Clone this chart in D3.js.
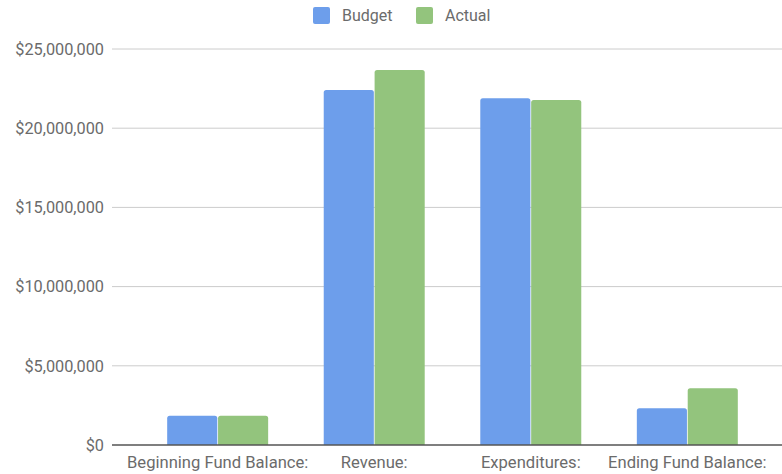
<!DOCTYPE html>
<html>
<head>
  <meta charset="utf-8">
  <script src="https://d3js.org/d3.v7.min.js"></script>
  <style>
    body { margin: 0; background: #fff; }
    text { font-family: Roboto, "Noto Sans", sans-serif; fill: #6b6b6b; }
  </style>
</head>
<body>
  <svg id="chart" width="782" height="474"></svg>
  <script>
    // data
    const categories = ["Beginning Fund Balance:", "Revenue:", "Expenditures:", "Ending Fund Balance:"];
    const series = ["Budget", "Actual"];
    const budget = [1850000, 22410000, 21890000, 2320000];
    const actual = [1850000, 23670000, 21780000, 3580000];
    const yTicks = [0, 5000000, 10000000, 15000000, 20000000, 25000000];
    const colors = ["#6d9eeb", "#93c47d"];

    const svg = d3.select("#chart");
    const gridLeft = 112, gridRight = 782;

    const x = d3.scaleBand().domain(categories).range([139, 766]).paddingInner(0.355).paddingOuter(0.18);
    const x1 = d3.scaleBand().domain(series).range([0, x.bandwidth()]).paddingInner(0.015);
    const y = d3.scaleLinear().domain([0, 25000000]).range([445, 49]);

    // gridlines + y labels
    const fmt = d => "$" + d3.format(",")(d);
    svg.append("g").selectAll("line")
      .data(yTicks.filter(d => d > 0))
      .join("line")
      .attr("x1", gridLeft).attr("x2", gridRight)
      .attr("y1", d => y(d)).attr("y2", d => y(d))
      .attr("stroke", "#ccc").attr("stroke-width", 1);

    svg.append("g").selectAll("text")
      .data(yTicks)
      .join("text")
      .attr("x", 104).attr("y", d => y(d))
      .attr("dy", "0.35em")
      .attr("text-anchor", "end")
      .attr("font-size", 16.3)
      .text(fmt);

    // bars with rounded top corners
    function barPath(x0, w, yTop, yBase, r) {
      r = Math.min(r, (yBase - yTop));
      return `M${x0},${yBase} V${yTop + r} Q${x0},${yTop} ${x0 + r},${yTop} H${x0 + w - r} Q${x0 + w},${yTop} ${x0 + w},${yTop + r} V${yBase} Z`;
    }

    const rows = categories.map((c, i) => ({ cat: c, values: [budget[i], actual[i]] }));
    const groups = svg.append("g").selectAll("g")
      .data(rows)
      .join("g")
      .attr("transform", d => `translate(${x(d.cat)},0)`);

    groups.selectAll("path")
      .data(d => d.values.map((v, j) => ({ s: series[j], v, j })))
      .join("path")
      .attr("d", d => barPath(x1(d.s), x1.bandwidth(), y(d.v), y(0), 2.5))
      .attr("fill", d => colors[d.j]);

    // baseline
    svg.append("line")
      .attr("x1", gridLeft).attr("x2", gridRight)
      .attr("y1", y(0)).attr("y2", y(0))
      .attr("stroke", "#555").attr("stroke-width", 1.5);

    // category labels
    svg.append("g").selectAll("text")
      .data(categories)
      .join("text")
      .attr("x", d => x(d) + x.bandwidth() / 2)
      .attr("y", 468)
      .attr("text-anchor", "middle")
      .attr("font-size", 16.6)
      .text(d => d);

    // legend
    const legendX = [313, 416];
    const legend = svg.append("g").selectAll("g")
      .data(series)
      .join("g")
      .attr("transform", (d, i) => `translate(${legendX[i]},7)`);
    legend.append("rect")
      .attr("width", 17).attr("height", 17).attr("rx", 2)
      .attr("fill", (d, i) => colors[i]);
    legend.append("text")
      .attr("x", 29).attr("y", 8.5).attr("dy", "0.35em")
      .attr("font-size", 16)
      .text(d => d);
  </script>
</body>
</html>
